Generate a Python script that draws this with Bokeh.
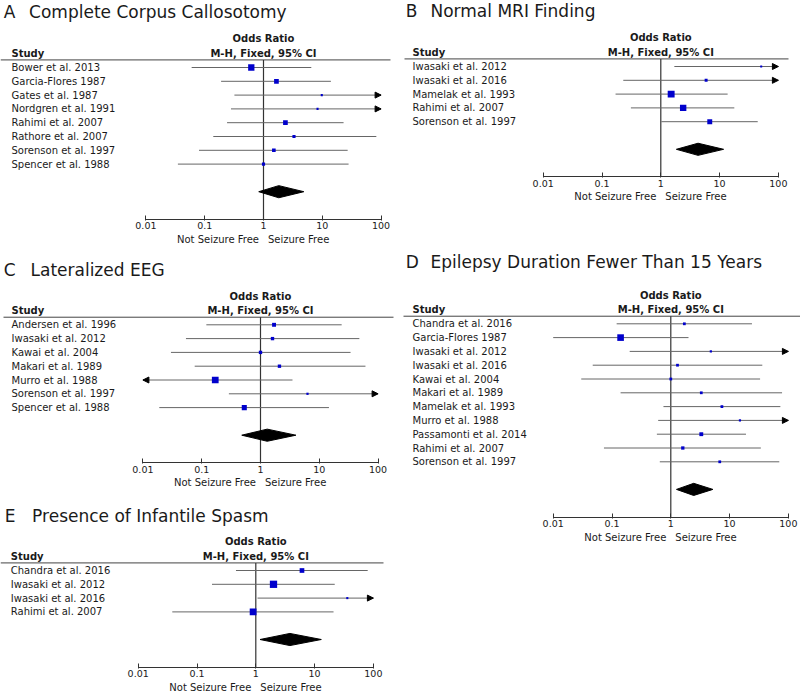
import math
from bokeh.plotting import figure
from bokeh.models import Range1d, FixedTicker, PrintfTickFormatter, Arrow, NormalHead
from bokeh.layouts import row, column
from bokeh.core.properties import value
from bokeh.embed import file_html
from bokeh.resources import INLINE

# ---------------- data ----------------
TICKS = [0.01, 0.1, 1, 10, 100]
TICK_LABELS = ["0.01", "0.1", "1", "10", "100"]
X_LABEL_LEFT = "Not Seizure Free"
X_LABEL_RIGHT = "Seizure Free"
HEAD1 = "Odds Ratio"
HEAD2 = "M-H, Fixed, 95% CI"
HEAD_STUDY = "Study"

A_letter = "A"
A_title = "Complete Corpus Callosotomy"
A_studies = ["Bower et al. 2013", "Garcia-Flores 1987", "Gates et al. 1987", "Nordgren et al. 1991",
             "Rahimi et al. 2007", "Rathore et al. 2007", "Sorenson et al. 1997", "Spencer et al. 1988"]
A_or = [0.62, 1.66, 9.8, 8.3, 2.36, 3.3, 1.5, 1.0]
A_lo = [0.06, 0.19, 0.32, 0.28, 0.24, 0.14, 0.08, 0.035]
A_hi = [6.5, 14.0, 300.0, 250.0, 23.0, 83.0, 27.0, 28.0]
A_weight = [31.6, 17.5, 3.5, 3.5, 17.5, 7.9, 10.5, 7.9]
A_pooled = [1.82, 0.83, 4.85]

B_letter = "B"
B_title = "Normal MRI Finding"
B_studies = ["Iwasaki et al. 2012", "Iwasaki et al. 2016", "Mamelak et al. 1993",
             "Rahimi et al. 2007", "Sorenson et al. 1997"]
B_or = [51.0, 5.9, 1.5, 2.4, 6.8]
B_lo = [1.7, 0.23, 0.17, 0.31, 1.02]
B_hi = [1500.0, 900.0, 13.7, 17.8, 44.5]
B_weight = [3.1, 7.0, 38.0, 32.6, 19.4]
B_pooled = [4.3, 1.84, 11.7]

C_letter = "C"
C_title = "Lateralized EEG"
C_studies = ["Andersen et al. 1996", "Iwasaki et al. 2012", "Kawai et al. 2004", "Makari et al. 1989",
             "Murro et al. 1988", "Sorenson et al. 1997", "Spencer et al. 1988"]
C_or = [1.7, 1.6, 1.0, 2.1, 0.17, 6.3, 0.53]
C_lo = [0.12, 0.054, 0.03, 0.076, 0.004, 0.29, 0.019]
C_hi = [24.0, 48.0, 34.0, 61.0, 3.5, 140.0, 14.6]
C_weight = [12.3, 9.0, 9.0, 9.0, 36.2, 4.0, 20.4]
C_pooled = [1.3, 0.48, 4.0]

D_letter = "D"
D_title = "Epilepsy Duration Fewer Than 15 Years"
D_studies = ["Chandra et al. 2016", "Garcia-Flores 1987", "Iwasaki et al. 2012", "Iwasaki et al. 2016",
             "Kawai et al. 2004", "Makari et al. 1989", "Mamelak et al. 1993", "Murro et al. 1988",
             "Passamonti et al. 2014", "Rahimi et al. 2007", "Sorenson et al. 1997"]
D_or = [1.7, 0.14, 4.8, 1.3, 1.0, 3.3, 7.4, 15.0, 3.3, 1.6, 6.8]
D_lo = [0.12, 0.01, 0.2, 0.047, 0.03, 0.14, 0.75, 0.61, 0.58, 0.073, 0.65]
D_hi = [24.0, 2.0, 400.0, 36.0, 33.0, 78.0, 73.0, 350.0, 19.0, 34.0, 70.0]
D_weight = [6.1, 35.0, 3.9, 6.1, 6.1, 6.1, 6.1, 3.9, 11.9, 8.7, 6.1]
D_pooled = [2.45, 1.25, 5.2]

E_letter = "E"
E_title = "Presence of Infantile Spasm"
E_studies = ["Chandra et al. 2016", "Iwasaki et al. 2012", "Iwasaki et al. 2016", "Rahimi et al. 2007"]
E_or = [6.1, 2.0, 36.0, 0.9]
E_lo = [0.46, 0.18, 1.07, 0.038]
E_hi = [80.0, 22.0, 1200.0, 21.0]
E_weight = [17.5, 42.4, 3.5, 36.6]
E_pooled = [3.8, 1.18, 13.0]

# ---------------- style / layout ----------------
FONT = "DejaVu Sans"
ROW = 13.8        # px per study row
DEC = 58.8        # px per decade
W = 400
TEXT_C = "#1a1a1a"
CI_C = "#666666"
LINE_C = "#444444"
SQ_C = "#0000CC"

# x1: pixel of OR = 1; row0: pixel (from figure top) of the first study row
LAYOUT = {
    "A": dict(x1=263.0, letter=3.3, title=28.6, label=11.0, line=(0, 390), h=246, row0=67.0, title_u=-4.0),
    "B": dict(x1=260.3, letter=5.3, title=30.0, label=12.0, line=(4, 388), h=246, row0=66.0, title_u=-4.0),
    "C": dict(x1=260.0, letter=3.3, title=30.0, label=11.0, line=(3, 393), h=246, row0=78.3, title_u=-3.95),
    "D": dict(x1=270.3, letter=5.3, title=30.0, label=12.0, line=(3, 400), h=300, row0=77.3, title_u=-4.5),
    "E": dict(x1=255.3, letter=4.3, title=31.6, label=10.3, line=(0, 383), h=200, row0=78.0, title_u=-3.95),
}


def panel(letter, title, studies, ors, los, his, weights, pooled):
    lay = LAYOUT[letter]
    n = len(studies)
    x1 = lay["x1"]

    def px2x(px):
        return 10 ** ((px - x1) / DEC)

    axis_u = n + 3
    top_u = -lay["row0"] / ROW
    bottom_u = top_u + lay["h"] / ROW
    p = figure(width=W, height=lay["h"], x_axis_type="log",
               x_range=Range1d(px2x(0), px2x(W)), y_range=Range1d(bottom_u, top_u),
               output_backend="svg", toolbar_location=None, title=None,
               y_axis_location=None, min_border_left=0, min_border_right=0,
               min_border_top=0, min_border_bottom=0)
    p.outline_line_color = None
    p.xgrid.visible = False
    p.ygrid.visible = False
    p.background_fill_color = "white"
    p.border_fill_color = "white"

    header_u = -0.55
    # header rule
    p.segment(x0=[px2x(lay["line"][0])], y0=[header_u], x1=[px2x(lay["line"][1])], y1=[header_u],
              line_color=LINE_C, line_width=1)
    # line of no effect
    p.segment(x0=[1.0], y0=[header_u], x1=[1.0], y1=[axis_u], line_color="#333333", line_width=1.2)

    ys = list(range(n))
    lo_c = [max(v, TICKS[0]) for v in los]
    hi_c = [min(v, TICKS[-1]) for v in his]
    p.segment(x0=lo_c, y0=ys, x1=hi_c, y1=ys, line_color=CI_C, line_width=1)
    sizes = [max(2.0, 1.12 * math.sqrt(w)) for w in weights]
    p.scatter(x=ors, y=ys, marker="square", size=sizes, fill_color=SQ_C, line_color=None)

    for i in range(n):
        if his[i] > TICKS[-1]:
            p.add_layout(Arrow(end=NormalHead(size=6, fill_color="black", line_color="black"),
                               x_start=TICKS[-1] / 2, y_start=i, x_end=TICKS[-1], y_end=i,
                               line_alpha=0))
        if los[i] < TICKS[0]:
            p.add_layout(Arrow(end=NormalHead(size=6, fill_color="black", line_color="black"),
                               x_start=TICKS[0] * 2, y_start=i, x_end=TICKS[0], y_end=i,
                               line_alpha=0))

    est, lo, hi = pooled
    yd = n + 1
    dh = 0.44
    p.patch(x=[lo, est, hi, est], y=[yd, yd - dh, yd, yd + dh], fill_color="black", line_color="black")

    # texts
    p.text(x=[px2x(lay["letter"])], y=[lay["title_u"]], text=[letter], text_font=value(FONT),
           text_font_size="17px", text_baseline="middle", text_align="left", text_color=TEXT_C)
    p.text(x=[px2x(lay["title"])], y=[lay["title_u"]], text=[title], text_font=value(FONT),
           text_font_size="17px", text_baseline="middle", text_align="left", text_color=TEXT_C)
    p.text(x=[1.0], y=[-2.08], text=[HEAD1], text_font=value(FONT), text_font_size="10px",
           text_font_style="bold", text_baseline="middle", text_align="center", text_color=TEXT_C)
    p.text(x=[1.0], y=[-1.02], text=[HEAD2], text_font=value(FONT), text_font_size="10px",
           text_font_style="bold", text_baseline="middle", text_align="center", text_color=TEXT_C)
    p.text(x=[px2x(lay["label"])], y=[-1.02], text=[HEAD_STUDY], text_font=value(FONT),
           text_font_size="10px", text_font_style="bold", text_baseline="middle", text_align="left",
           text_color=TEXT_C)
    p.text(x=[px2x(lay["label"])] * n, y=ys, text=studies, text_font=value(FONT),
           text_font_size="10px", text_baseline="middle", text_align="left", text_color=TEXT_C)

    # axis (drawn inside the frame at the row below the pooled estimate)
    ax = p.xaxis[0]
    ax.fixed_location = axis_u
    ax.ticker = FixedTicker(ticks=TICKS, minor_ticks=[])
    ax.formatter = PrintfTickFormatter(format="%g")
    ax.major_label_overrides = dict(zip(TICKS, TICK_LABELS))
    ax.bounds = (TICKS[0], TICKS[-1])
    ax.axis_line_color = "#333333"
    ax.major_tick_line_color = "#333333"
    ax.minor_tick_line_color = None
    ax.major_tick_in = 4
    ax.major_tick_out = 1
    ax.major_label_standoff = 2
    ax.major_label_text_font = FONT
    ax.major_label_text_font_size = "9.5px"
    ax.major_label_text_color = TEXT_C

    sub_y = axis_u + 20.0 / ROW
    p.text(x=[1.0], y=[sub_y], x_offset=-4.5, text=[X_LABEL_LEFT], text_align="right",
           text_baseline="middle", text_font=value(FONT), text_font_size="10px", text_color=TEXT_C)
    p.text(x=[1.0], y=[sub_y], x_offset=4.5, text=[X_LABEL_RIGHT], text_align="left",
           text_baseline="middle", text_font=value(FONT), text_font_size="10px", text_color=TEXT_C)
    return p


pA = panel(A_letter, A_title, A_studies, A_or, A_lo, A_hi, A_weight, A_pooled)
pB = panel(B_letter, B_title, B_studies, B_or, B_lo, B_hi, B_weight, B_pooled)
pC = panel(C_letter, C_title, C_studies, C_or, C_lo, C_hi, C_weight, C_pooled)
pD = panel(D_letter, D_title, D_studies, D_or, D_lo, D_hi, D_weight, D_pooled)
pE = panel(E_letter, E_title, E_studies, E_or, E_lo, E_hi, E_weight, E_pooled)

root = row(column(pA, pC, pE, spacing=0), column(pB, pD, spacing=0), spacing=0)

with open("out.html", "w") as f:
    f.write(file_html(root, INLINE, title="Forest plots"))
